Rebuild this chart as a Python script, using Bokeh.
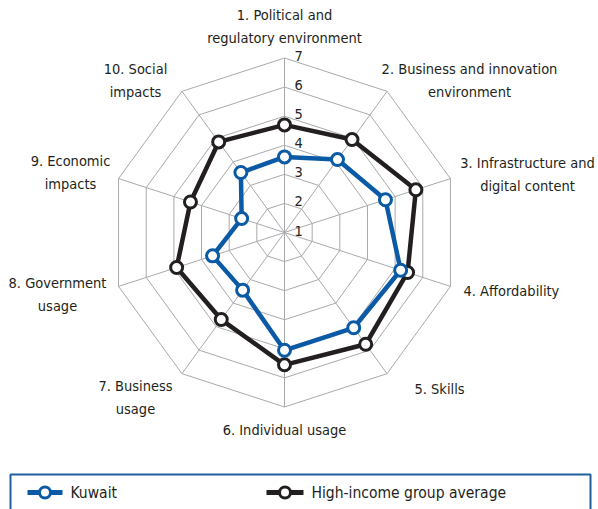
import numpy as np
from bokeh.plotting import figure
from bokeh.models import Range1d
from bokeh.core.properties import value
from bokeh.embed import file_html
from bokeh.resources import INLINE

categories = ["1. Political and\nregulatory environment",
              "2. Business and innovation\nenvironment",
              "3. Infrastructure and\ndigital content",
              "4. Affordability",
              "5. Skills",
              "6. Individual usage",
              "7. Business\nusage",
              "8. Government\nusage",
              "9. Economic\nimpacts",
              "10. Social\nimpacts"]
kuwait = [3.6, 4.1, 4.65, 5.2, 5.05, 5.05, 3.45, 3.6, 2.55, 3.55]
high_income = [4.7, 4.95, 5.75, 5.45, 5.75, 5.55, 4.7, 4.9, 4.4, 4.85]
ticks = [1, 2, 3, 4, 5, 6, 7]
series_names = ["Kuwait", "High-income group average"]

W, H = 598, 509
CX, CY = 284, 232
UNIT = 29.08
FONT = "DejaVu Sans Condensed, Roboto, sans-serif"
TXT = "#231f20"
BLUE = "#0b5aa5"
BLACK = "#231f20"
GRID = "#a7a9ac"

p = figure(width=W, height=H, x_range=Range1d(0, W), y_range=Range1d(H, 0),
           x_axis_type=None, y_axis_type=None, toolbar_location=None,
           output_backend="svg", min_border=0, outline_line_color=None)
p.grid.visible = False
p.background_fill_color = "white"

n = len(categories)
ang = np.arange(n) * 2 * np.pi / n

def xy(vals):
    r = (np.asarray(vals, float) - ticks[0]) * UNIT
    return CX + r * np.sin(ang), CY - r * np.cos(ang)

# grid rings
for t in ticks[1:]:
    x, y = xy([t] * n)
    p.line(list(x) + [x[0]], list(y) + [y[0]], line_color=GRID, line_width=1)
# spokes
xo, yo = xy([ticks[-1]] * n)
p.segment(x0=[CX] * n, y0=[CY] * n, x1=list(xo), y1=list(yo), line_color=GRID, line_width=1)

# tick labels
p.text(x=[CX + 10] * len(ticks), y=[CY - (t - ticks[0]) * UNIT - 2 for t in ticks],
       text=[str(t) for t in ticks], text_font=value(FONT), text_font_size="14.5px",
       text_color=TXT, text_baseline="middle", text_align="left")

# series
for vals, col in [(high_income, BLACK), (kuwait, BLUE)]:
    x, y = xy(vals)
    p.line(list(x) + [x[0]], list(y) + [y[0]], line_color=col, line_width=4.5, line_join="round")
for vals, col in [(high_income, BLACK), (kuwait, BLUE)]:
    x, y = xy(vals)
    p.scatter(x, y, size=12, marker="circle", fill_color="white", line_color=col, line_width=3)

# category labels
lab_pos = [(284, 26, "center"), (469, 80, "center"), (527, 174, "center"),
           (463, 290, "left"), (414, 388, "left"), (284, 429, "center"),
           (135, 397, "center"), (57, 294, "center"), (70, 172, "center"),
           (135, 80, "center")]
for lab, (lx, ly, al) in zip(categories, lab_pos):
    p.text(x=[lx], y=[ly], text=[lab], text_font=value(FONT), text_font_size="14.5px",
           text_color=TXT, text_baseline="middle", text_align=al, text_line_height=1.4)

# legend box
p.line([10, 10, 590, 590], [H + 5, 474, 474, H + 5], line_color="#1f5f9e", line_width=2)
leg = [(27, 62, 70, BLUE), (266, 303, 311, BLACK)]
for name, (x0, x1, tx, col) in zip(series_names, leg):
    ym = 492
    p.line([x0, x1], [ym, ym], line_color=col, line_width=5)
    p.scatter([(x0 + x1) / 2], [ym], size=11, marker="circle", fill_color="white", line_color=col, line_width=3)
    p.text(x=[tx], y=[ym], text=[name], text_font=value(FONT), text_font_size="15.5px",
           text_color=TXT, text_baseline="middle", text_align="left")

open("out.html", "w").write(file_html(p, INLINE))
